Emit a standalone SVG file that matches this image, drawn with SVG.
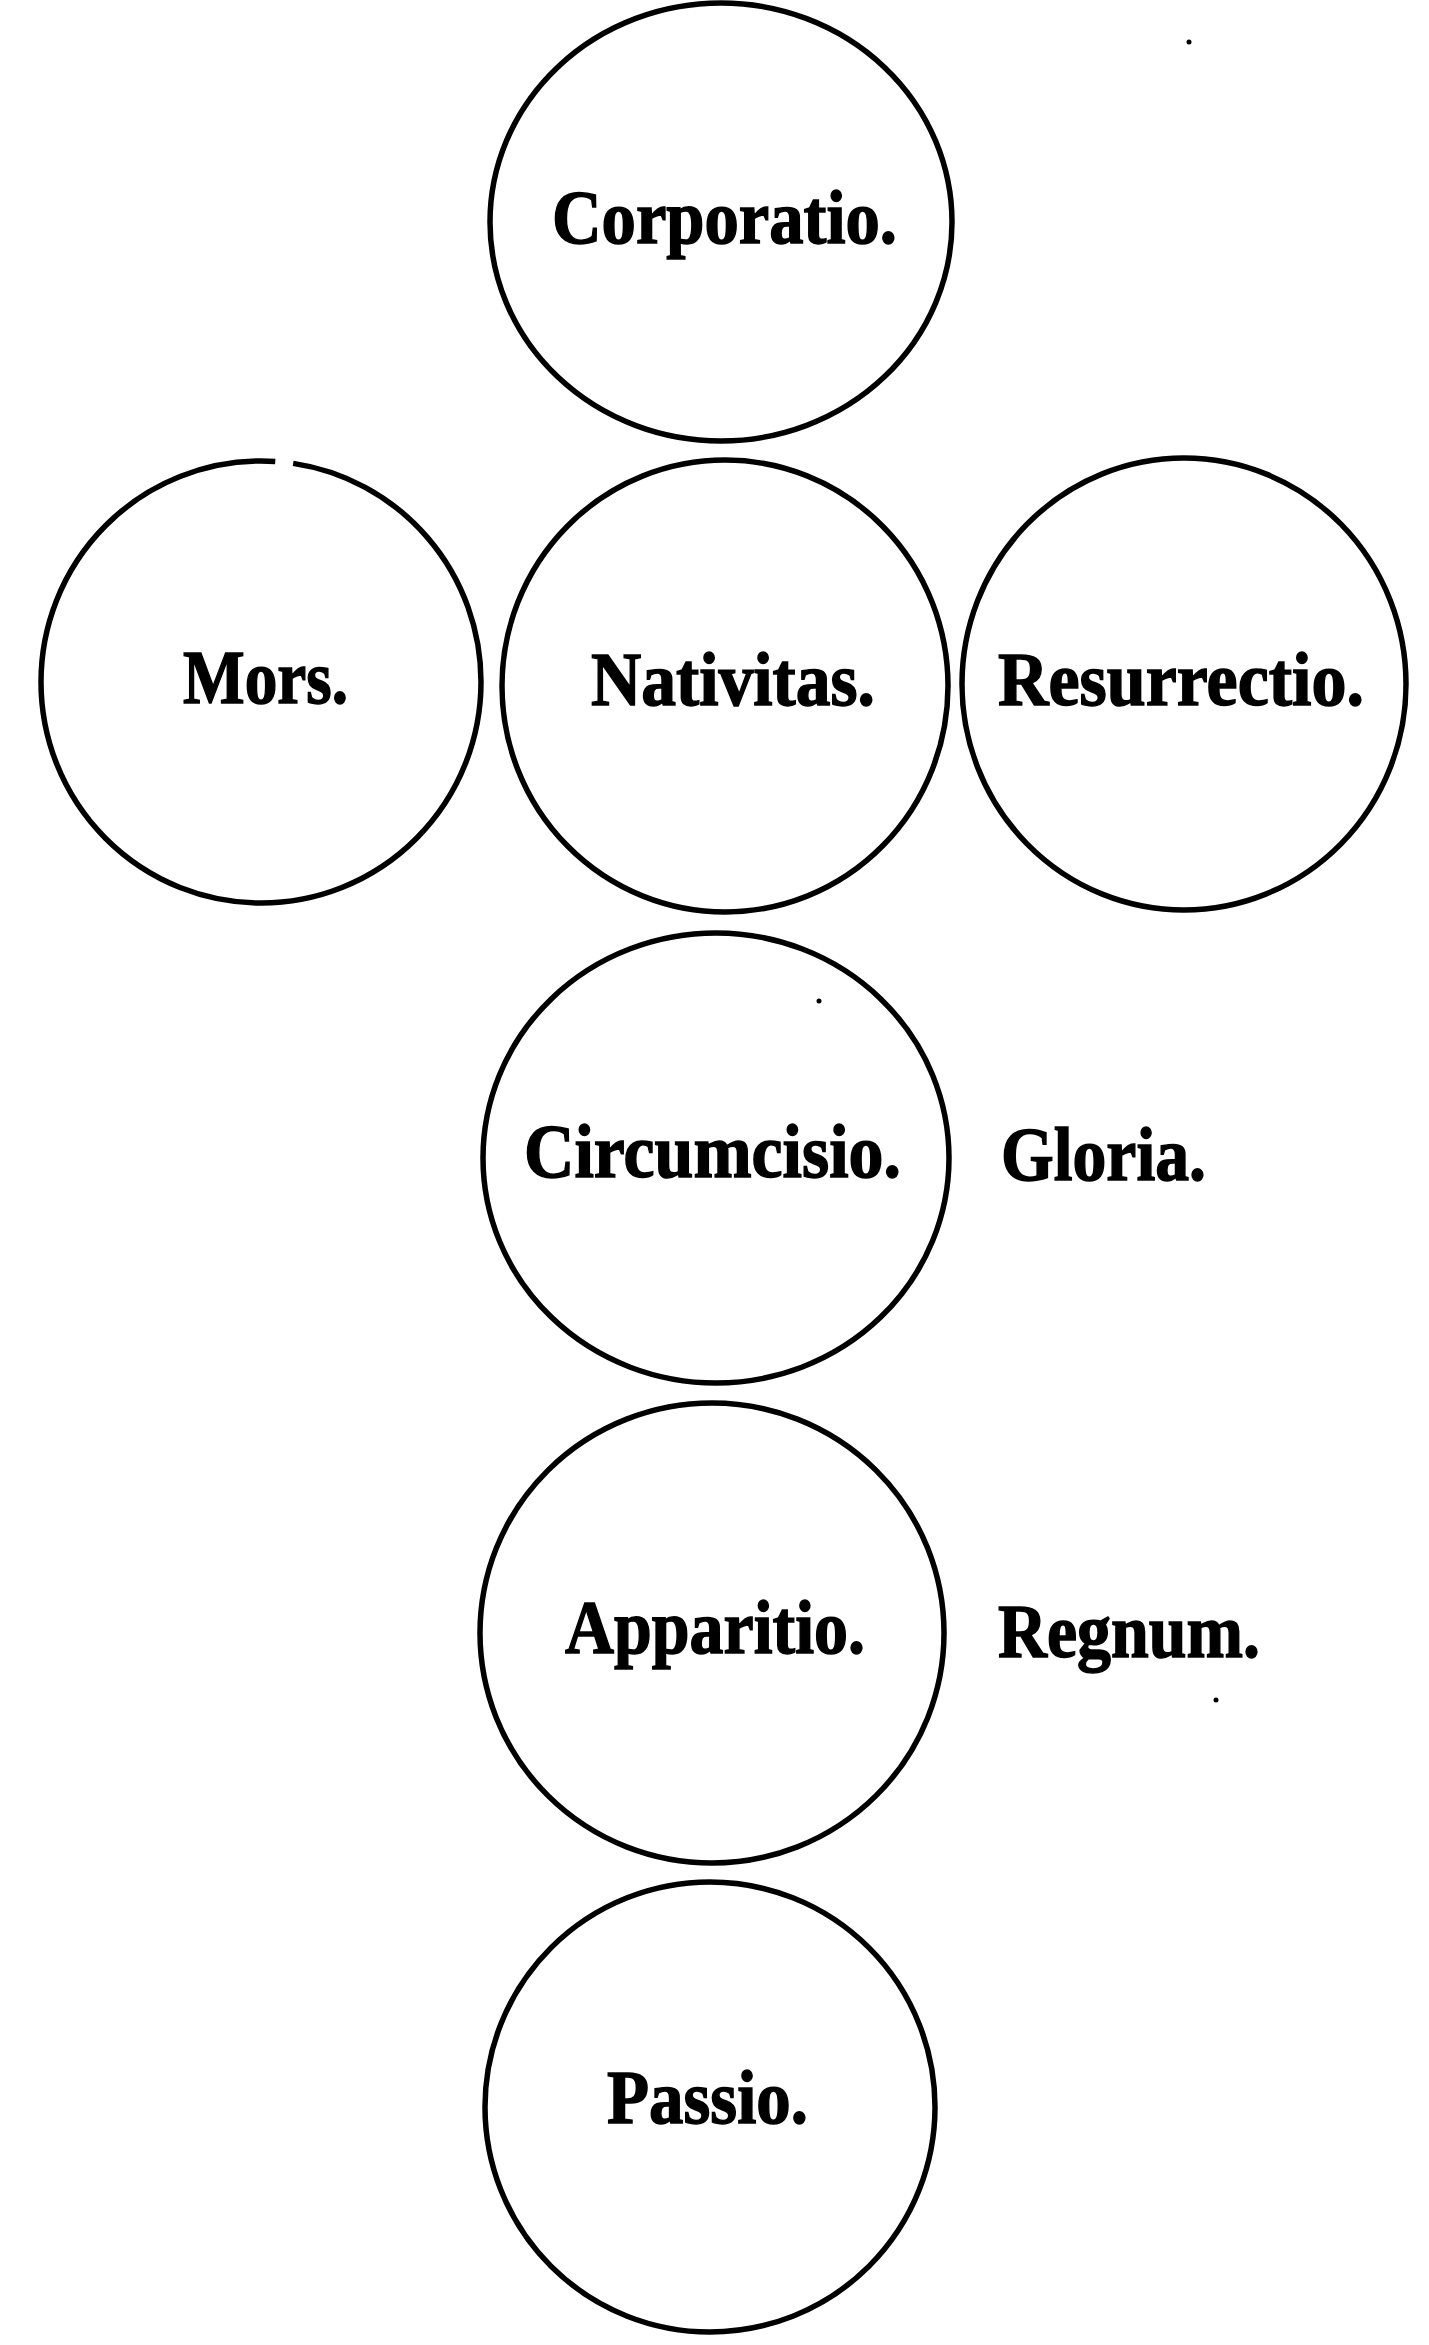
<svg xmlns="http://www.w3.org/2000/svg" width="1429" height="2345" viewBox="0 0 1429 2345">
<style>
.c{fill:none;stroke:#000;stroke-width:5.5}
.t{font-family:"Liberation Serif","Times New Roman",serif;font-weight:bold;font-size:76px;fill:#000;stroke:#000;stroke-width:1.5}
.s{fill:#000}
</style>
<rect width="1429" height="2345" fill="#fff"/>
<g id="corporatio"><ellipse class="c" cx="721" cy="222" rx="231" ry="219"/><text class="t" x="552" y="243" textLength="345" lengthAdjust="spacingAndGlyphs">Corporatio.</text></g>
<g id="mors"><ellipse class="c" cx="261" cy="682" rx="220" ry="221" stroke-dasharray="1053 18 400"/><text class="t" x="183" y="703" textLength="165" lengthAdjust="spacingAndGlyphs">Mors.</text></g>
<g id="nativitas"><ellipse class="c" cx="725" cy="686" rx="223" ry="226"/><text class="t" x="591" y="705" textLength="284" lengthAdjust="spacingAndGlyphs">Nativitas.</text></g>
<g id="resurrectio"><ellipse class="c" cx="1184" cy="684" rx="222" ry="226"/><text class="t" x="998" y="705" textLength="366" lengthAdjust="spacingAndGlyphs">Resurrectio.</text></g>
<g id="circumcisio"><ellipse class="c" cx="716" cy="1158" rx="233" ry="225"/><text class="t" x="524" y="1177" textLength="377" lengthAdjust="spacingAndGlyphs">Circumcisio.</text></g>
<g id="gloria"><text class="t" x="1001" y="1180" textLength="205" lengthAdjust="spacingAndGlyphs">Gloria.</text></g>
<g id="apparitio"><ellipse class="c" cx="712" cy="1633" rx="232" ry="230"/><text class="t" x="565" y="1653" textLength="300" lengthAdjust="spacingAndGlyphs">Apparitio.</text></g>
<g id="regnum"><text class="t" x="998" y="1657" textLength="262" lengthAdjust="spacingAndGlyphs">Regnum.</text></g>
<g id="passio"><ellipse class="c" cx="710" cy="2107" rx="225" ry="225"/><text class="t" x="607" y="2123" textLength="201" lengthAdjust="spacingAndGlyphs">Passio.</text></g>
<g id="specks"><circle class="s" cx="1189" cy="42" r="2.5"/><circle class="s" cx="819" cy="1001" r="2.5"/><circle class="s" cx="1216" cy="1700" r="2.5"/></g>
<g id="connectors"></g>
</svg>
